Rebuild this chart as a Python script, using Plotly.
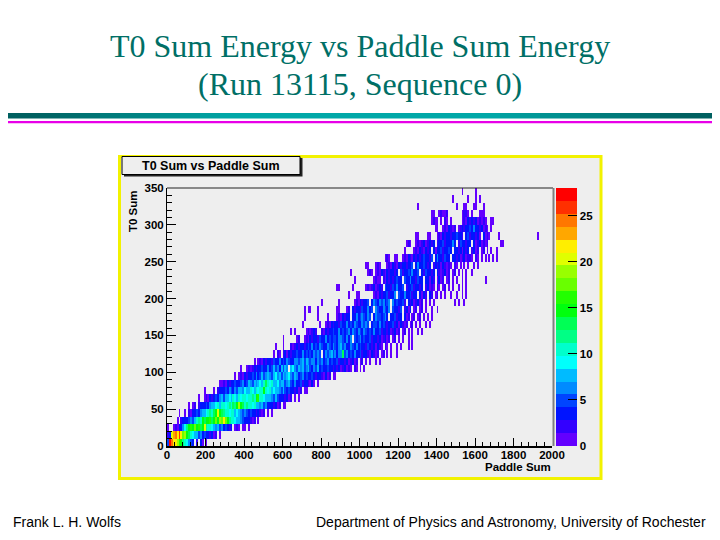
import colorsys
import plotly.graph_objects as go

# ---------------- page geometry (screen pixels; page body has an 8px margin) ----------------
OFF = 8
W, H = 720 - OFF, 540 - OFF
PLOT_X0, PLOT_X1 = 167, 552      # plot frame in screen pixels
PLOT_Y0, PLOT_Y1 = 188, 446
ML = PLOT_X0 - OFF
MT = PLOT_Y0 - OFF
PW = PLOT_X1 - PLOT_X0
PH = PLOT_Y1 - PLOT_Y0
MR = W - ML - PW
MB = H - MT - PH


def px(x):
    return (x - PLOT_X0) / PW


def py(y):
    return (PLOT_Y1 - y) / PH


# ---------------- data ----------------
TITLE_1 = "T0 Sum Energy vs Paddle Sum Energy"
TITLE_2 = "(Run 13115, Sequence 0)"
HIST_TITLE = "T0 Sum vs Paddle Sum"
X_LABEL = "Paddle Sum"
Y_LABEL = "T0 Sum"
FOOT_LEFT = "Frank L. H. Wolfs"
FOOT_RIGHT = "Department of Physics and Astronomy, University of Rochester"

X_BIN = 10
Y_BIN = 10
N_X = 200
N_Y = 35
Z_MAX = 28
CBAR_TICKS = [0, 5, 10, 15, 20, 25]

# bin counts, one string per T0-sum row (10 units each),
# '.' = empty, '1'-'9' = 1-9, 'A' = 10 ... 'S' = 28; first number = first x bin
LEVEL_CHARS = ".123456789ABCDEFGHIJKLMNOPQRS"
rows = [
    (0, "5SOLMJGECA9653.2.31.1"),
    (0, "24KNPMQLIJFDB9875645342312.1"),
    (0, "1..1213469" "CEGFIEGDFK" "CBA9768564" "5323.121.1" "1.1"),
    (5, "1.23435658" "ACBEDFEGDF" "HEJHLIECAB" "9786543421" "2.1"),
    (6, "1..1.21345" "46879ACBDE" "KFDCBA9BA8" "9765654534" "23212.1.1"),
    (11, "1.12.23435" "46879A8AB9" "ACBDCFJEDB" "CAB9A87685" "64342312.11"),
    (16, "1..1213245" "46758798A9" "8A9BA9BACB" "EGBA987865" "754342312.1.1"),
    (19, "1....1.234" "3546546578" "6978A98A9B" "AEA9B89786" "57545342312.11"),
    (27, "1121324354" "3564576586" "797ADB9A87" "9678567546" "3452342131.1"),
    (35, "1.12132435" "4645756865" "7967586796" "5764564534" "5324321312.11"),
    (38, "1..1212324" "3543645756" "47586.7965" "8675685465" "7453453423" "24123121.21.1.1"),
    (45, "1.12132342" "5346453654" "4665675765" "6646564563" "5435243231" "2312.12.1.1..1.1"),
    (55, "1.21.23132" "4353464545" "46565.4656" "756466D564" "5364352432" "13212.12.1.1..1"),
    (56, "1...1...21" "2324324536" "4536544654" "6546756446" "5364534253" "241321.21.1..1.1...1.1"),
    (60, "1......12." ".121324325" "3464535546" "654646.545" "6354352432" "312312.12.1.1..1.1"),
    (64, "1.1.....12" "1232..2132" "4353464545" "6465465465" "3546345243" "2312312.12.1.1..1.1"),
    (70, "1........1" "..12132432" "5346453654" "46565.4554" "6354243523" "13212.12.1.1..1.1"),
    (71, "1......1.." "..1....121" "3243.34645" "65465.4655" "4563.43524" "3.312.12.12.1.1.1"),
    (71, "1.11...1.." ".......11." "..12.32432" "534645.654" "46536.5342" "5.2413.12.12.1..1..1"),
    (80, "1........1" ".......121" "32435.4654" "656456.635" "4352.32312" "312.1.1.1." ".........1.1..1"),
    (94, "1...11...." "...1213243" "52436.5346" "435243.413" "2.32.12.1.1..1..1..1.1"),
    (88, "11......1." ".....12123" "1242.53425" "36435.2435" "23423.2312" "1.21.12.1.1..1.1.1"),
    (97, "1........." "1211.21324" "23534.5346" "342534.341" "32.1312.12" ".1.1..1.1.........1"),
    (95, "1........1" "21.1213213" "24324.5243" "546345.425" "3423.32123" "12.12.1.1.1..1"),
    (103, "11...121.." ".121321324" "32435.3643" "5424.24231" "32121.21.1.1.1..1.1"),
    (113, "121..11..1" "2132132423" "53425.4634" "2534.34231" "231221.21.1.1.1.1.1"),
    (123, "1....12132" "1324.31435" "24354.3423" "1324.2312." "12.1.1..1"),
    (124, "121..12123" "12324.2435" "243463.253" "4234.31231" "212......11"),
    (129, "11....11.." ".121324324" "35342.3523" "4231.3121." "...1" "..................." "1"),
    (139, "11..121321" "2.12324353" "64323121.1"),
    (137, "1211.1.21." "1.....1213" "242312121..11"),
    (137, "11..12112" "......." "1221.1...111"),
    (130, "1" "..................." "1...11...11...1"),
    (148, "1.......1...1.1"),
    (153, "1......1"),
]

# ---------------- build the histogram matrix ----------------
x_centers = [X_BIN * i + X_BIN / 2 for i in range(N_X)]
y_centers = [Y_BIN * j + Y_BIN / 2 for j in range(N_Y)]
z = []
for start, s in rows:
    row = [None] * N_X
    for i, ch in enumerate(s):
        c = start + i
        if c < N_X:
            v = LEVEL_CHARS.index(ch)
            row[c] = v if v > 0 else None
    z.append(row)

# ROOT "pretty" palette, 20 contour levels
N_LEV = 20
pal = []
for k in range(N_LEV):
    idx = int((k + 0.99) * 50 / N_LEV)
    hue = 280 - (idx + 1) * 5.6
    r, g, b = colorsys.hls_to_rgb(hue / 360.0, 0.5, 1.0)
    pal.append("rgb(%d,%d,%d)" % (round(r * 255), round(g * 255), round(b * 255)))
cscale = []
for k, c in enumerate(pal):
    cscale.append([k / N_LEV, c])
    cscale.append([(k + 1) / N_LEV, c])

SANS = "Liberation Sans, Arial, Helvetica, sans-serif"
SERIF = "Liberation Serif, Times New Roman, serif"
TEAL = "#006f66"
PAD_BG = "#eeeeee"

fig = go.Figure()
fig.add_trace(go.Heatmap(
    x=x_centers, y=y_centers, z=z,
    zmin=-0.001, zmax=Z_MAX,
    colorscale=cscale, zsmooth=False, hoverinfo="skip",
    colorbar=dict(
        x=px(556), xanchor="left", xpad=0,
        y=0, yanchor="bottom", len=1, lenmode="fraction", ypad=0,
        thickness=21, thicknessmode="pixels",
        outlinewidth=0,
        ticks="inside", ticklen=9, tickwidth=1, tickcolor="black",
        tickvals=CBAR_TICKS,
        tickfont=dict(family=SANS, size=11.5, color="black", weight="bold"),
    ),
))

# ---------------- decorative shapes ----------------
shapes = []
# slide teal band (gradient approximated with segments)
NSEG = 36
dark = (0, 96, 96)
light = (0, 168, 168)
for i in range(NSEG):
    t = abs((i + 0.5) / NSEG - 0.5) * 2
    s = min(max((t - 0.35) / 0.55, 0), 1)
    col = tuple(round(light[j] + (dark[j] - light[j]) * s) for j in range(3))
    shapes.append(dict(type="rect", xref="paper", yref="paper",
                       x0=px(720 * i / NSEG), x1=px(720 * (i + 1) / NSEG),
                       y0=py(118.5), y1=py(113),
                       fillcolor="rgb(%d,%d,%d)" % col, line=dict(width=0),
                       layer="below"))
# magenta line
shapes.append(dict(type="rect", xref="paper", yref="paper",
                   x0=px(0), x1=px(720), y0=py(123.3), y1=py(121),
                   fillcolor="#e800e8", line=dict(width=0), layer="below"))
# ROOT pad with yellow border
shapes.append(dict(type="rect", xref="paper", yref="paper",
                   x0=px(119.5), x1=px(601), y0=py(478.5), y1=py(156.5),
                   fillcolor=PAD_BG, line=dict(color="#f2f200", width=3),
                   layer="below"))
# title box shadow + box
shapes.append(dict(type="rect", xref="paper", yref="paper",
                   x0=px(124), x1=px(302.5), y0=py(176.5), y1=py(158),
                   fillcolor="#222222", line=dict(width=0), layer="below"))
shapes.append(dict(type="rect", xref="paper", yref="paper",
                   x0=px(122), x1=px(300), y0=py(174.5), y1=py(156.5),
                   fillcolor=PAD_BG, line=dict(color="black", width=1),
                   layer="below"))
# frame top and right edges
shapes.append(dict(type="line", xref="paper", yref="paper",
                   x0=0, x1=px(553), y0=1, y1=1,
                   line=dict(color="#222222", width=1)))
shapes.append(dict(type="line", xref="paper", yref="paper",
                   x0=px(553.5), x1=px(553.5), y0=0, y1=1,
                   line=dict(color="#808080", width=2)))

# ---------------- annotations ----------------
ann = [
    dict(text=TITLE_1, x=px(360), y=py(46), xanchor="center", yanchor="middle",
         font=dict(family=SERIF, size=32, color=TEAL)),
    dict(text=TITLE_2, x=px(360), y=py(84), xanchor="center", yanchor="middle",
         font=dict(family=SERIF, size=32, color=TEAL)),
    dict(text=HIST_TITLE, x=px(211), y=py(165.5), xanchor="center", yanchor="middle",
         font=dict(family=SANS, size=12.5, color="black", weight="bold")),
    dict(text=Y_LABEL, x=px(133), y=py(188), xanchor="center", yanchor="top",
         textangle=-90,
         font=dict(family=SANS, size=11.5, color="black", weight="bold")),
    dict(text=X_LABEL, x=px(553), y=py(467), xanchor="right", yanchor="middle",
         font=dict(family=SANS, size=11.5, color="black", weight="bold")),
    dict(text=FOOT_LEFT, x=px(11), y=py(522), xanchor="left", yanchor="middle",
         font=dict(family=SANS, size=14, color="black")),
    dict(text=FOOT_RIGHT, x=px(708), y=py(522), xanchor="right", yanchor="middle",
         font=dict(family=SANS, size=14, color="black")),
]
for a in ann:
    a.update(xref="paper", yref="paper", showarrow=False)

axis_font = dict(family=SANS, size=11.5, color="black", weight="bold")
fig.update_layout(
    width=W, height=H,
    margin=dict(l=ML, r=MR, t=MT, b=MB, pad=0),
    paper_bgcolor="white", plot_bgcolor=PAD_BG,
    showlegend=False, hovermode=False,
    shapes=shapes, annotations=ann,
    xaxis=dict(range=[0, X_BIN * N_X], dtick=200, tick0=0,
               ticks="inside", ticklen=8, tickwidth=1, tickcolor="black",
               minor=dict(dtick=40, ticks="inside", ticklen=4, tickcolor="black"),
               showgrid=False, zeroline=False, showline=True,
               linecolor="black", linewidth=2, tickfont=axis_font,
               ticklabelstandoff=-3),
    yaxis=dict(range=[0, Y_BIN * N_Y], dtick=50, tick0=0,
               ticks="inside", ticklen=9, tickwidth=1, tickcolor="black",
               minor=dict(dtick=10, ticks="inside", ticklen=5, tickcolor="black"),
               showgrid=False, zeroline=False, showline=True,
               linecolor="black", linewidth=1, tickfont=axis_font),
)

fig.write_html("out.html")
